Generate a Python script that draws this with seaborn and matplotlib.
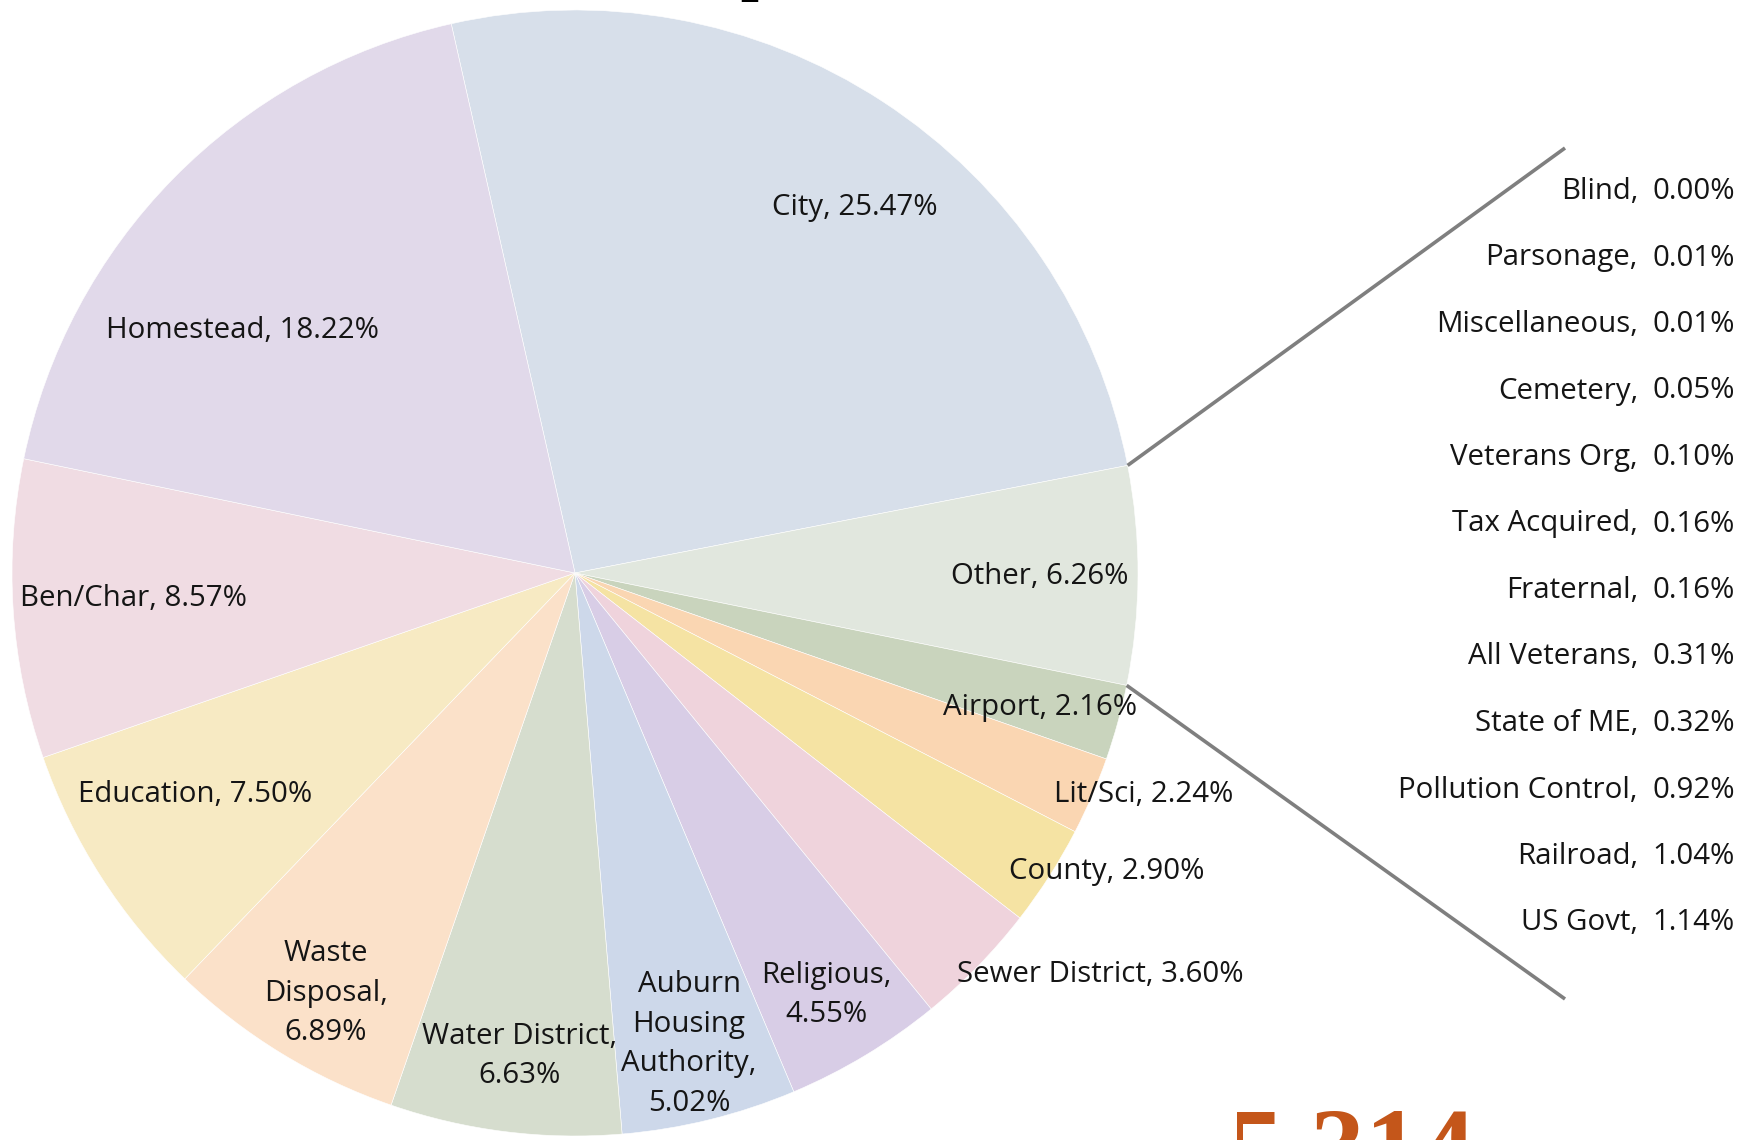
import numpy as np
import matplotlib
matplotlib.use("Agg")
import matplotlib.pyplot as plt
import seaborn as sns

# ---- data ----
main_labels = ["City", "Other", "Airport", "Lit/Sci", "County", "Sewer District",
               "Religious", "Auburn Housing Authority", "Water District",
               "Waste Disposal", "Education", "Ben/Char", "Homestead"]
main_values = [25.47, 6.26, 2.16, 2.24, 2.90, 3.60, 4.55, 5.02, 6.63, 6.89, 7.50, 8.57, 18.22]
main_texts = ["City, 25.47%", "Other, 6.26%", "Airport, 2.16%", "Lit/Sci, 2.24%",
              "County, 2.90%", "Sewer District, 3.60%", "Religious,\n4.55%",
              "Auburn\nHousing\nAuthority,\n5.02%", "Water District,\n6.63%",
              "Waste\nDisposal,\n6.89%", "Education, 7.50%", "Ben/Char, 8.57%",
              "Homestead, 18.22%"]
main_colors = ["#D7DFEA", "#E1E7DE", "#C9D4BD", "#FAD6B2", "#F5E3A3", "#EFD3DC",
               "#D8CDE6", "#CDD8EA", "#D6DDCE", "#FBE1C9", "#F7EAC3", "#F0DCE3",
               "#E1D9EA"]

other_labels = ["Blind", "Parsonage", "Miscellaneous", "Cemetery", "Veterans Org",
                "Tax Acquired", "Fraternal", "All Veterans", "State of ME",
                "Pollution Control", "Railroad", "US Govt"]
other_values = [0.00, 0.01, 0.01, 0.05, 0.10, 0.16, 0.16, 0.31, 0.32, 0.92, 1.04, 1.14]

total_text = "5,314"

# ---- layout (pixel space, y measured from top) ----
W, H = 1746, 1140
label_pos = [(855, 208), (1040, 576), (1040, 707), (1144, 795), (1107, 872),
             (1100, 975), (826, 995), (689, 1044), (520, 1056), (326, 993),
             (195, 795), (134, 598), (243, 331)]

sns.set_theme(style="white")
plt.rcParams['font.family'] = ['Open Sans', 'DejaVu Sans']

fig = plt.figure(figsize=(W / 100, H / 100), dpi=100)
ax = fig.add_axes([0, 0, 1, 1])

cx, cy, r = 575, 573, 563
wedges, _ = ax.pie(main_values, colors=main_colors, startangle=102.7,
                   counterclock=False, center=(cx, H - cy), radius=r,
                   wedgeprops=dict(edgecolor="white", linewidth=0.4))
ax.set_xlim(0, W)
ax.set_ylim(0, H)
ax.set_aspect("equal")
ax.axis("off")

fs = 21.2
for txt, (x, y) in zip(main_texts, label_pos):
    ax.text(x, H - y, txt, ha="center", va="center", fontsize=fs,
            color="#151515", linespacing=1.48, multialignment="center")

# connector lines from "Other" wedge edges to the secondary list
w_other = wedges[1]
end_pts = [(1565, 148), (1565, 999)]
for ang, (ex, ey) in zip([w_other.theta2, w_other.theta1], end_pts):
    a = np.deg2rad(ang)
    sx, sy = cx + r * np.cos(a), (H - cy) + r * np.sin(a)
    ax.plot([sx, ex], [sy, H - ey], color="#7f7f7f", lw=2.6, solid_capstyle="butt")

# secondary list
y0, dy = 191.5, 66.5
for i, (lab, val) in enumerate(zip(other_labels, other_values)):
    yy = H - (y0 + i * dy)
    ax.text(1638, yy, f"{lab},", ha="right", va="center", fontsize=fs, color="#151515")
    ax.text(1735, yy, f"{val:.2f}%", ha="right", va="center", fontsize=fs, color="#151515")

# clipped title glyph and total
ax.text(740, H + 12, "p", ha="left", va="baseline", fontsize=46,
        family="Liberation Serif", fontweight="bold", color="black", clip_on=False)
ax.text(1228, H - 1107, total_text, ha="left", va="top", fontsize=79,
        family="Liberation Serif", fontweight="bold", color="#C4561A", clip_on=False)

fig.savefig("out.png", dpi=100)
